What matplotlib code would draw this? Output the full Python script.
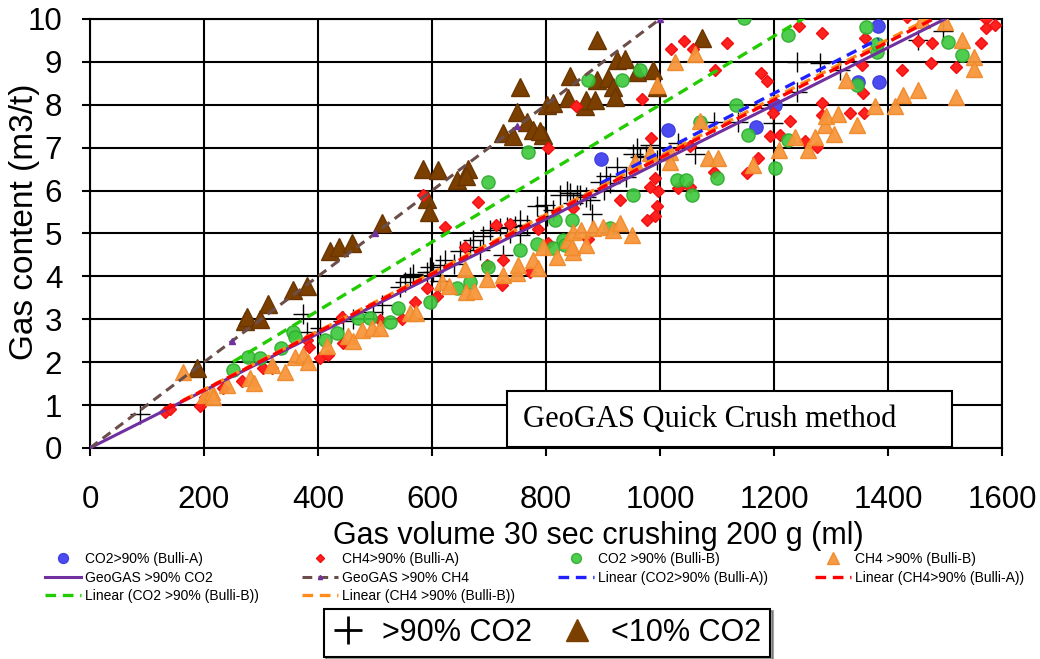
import numpy as np
import matplotlib
matplotlib.use('Agg')
import matplotlib.pyplot as plt
from matplotlib.lines import Line2D
from matplotlib.patches import Rectangle

plt.rcParams['font.family'] = ['Liberation Sans', 'DejaVu Sans']

# --- data (gas volume ml, gas content m3/t) ---
co2_a_x = [896, 1014, 1168, 1202, 1348, 1384, 1382]
co2_a_y = [6.74, 7.41, 7.48, 8.0, 8.53, 8.53, 9.84]

ch4_a_x = [132, 140, 193, 202, 234, 266, 304, 320, 380, 385, 404, 418, 442,
           444, 509, 547, 570, 591, 608, 585, 623, 658, 681, 696, 713, 737,
           725, 722, 772, 786, 804, 804, 848, 853, 874, 929, 968, 985, 991,
           982, 997, 994, 991, 977, 1019, 1042, 1058, 1032, 1053, 1053, 1094,
           1096, 1117, 1152, 1172, 1178, 1188, 1193, 1211, 1199, 1228, 1244,
           1254, 1275, 1284, 1284, 1284, 1333, 1357, 1354, 1356, 1360, 1424,
           1433, 1453, 1477, 1475, 1519, 1563, 1572, 1572, 1588]
ch4_a_y = [0.85, 0.9, 0.97, 1.2, 1.4, 1.55, 1.86, 1.86, 2.52, 2.35, 2.1, 2.17,
           3.06, 2.44, 2.98, 3.0, 3.41, 3.72, 3.55, 5.9, 5.16, 4.69, 5.73,
           4.27, 5.2, 5.22, 4.38, 3.8, 4.11, 5.1, 4.77, 7.0, 5.59, 7.96, 4.86,
           5.77, 8.13, 7.22, 6.29, 6.09, 6.0, 5.63, 5.4, 5.31, 9.3, 9.49,
           9.31, 6.05, 6.09, 7.03, 6.44, 8.81, 9.45, 6.4, 6.76, 8.73, 8.55,
           7.27, 7.3, 7.8, 7.63, 9.84, 7.16, 7.02, 9.67, 8.03, 7.76, 7.82,
           7.82, 8.93, 8.27, 9.55, 8.82, 10.04, 9.49, 9.43, 8.98, 8.87, 9.43,
           9.99, 9.78, 9.87]

co2_b_x = [251, 278, 298, 336, 357, 360, 412, 433, 471, 491, 526, 541, 597,
           643, 667, 699, 754, 784, 813, 829, 833, 816, 845, 912, 953, 1029,
           1045, 1056, 1100, 699, 769, 874, 933, 965, 1070, 1134, 1155, 1225,
           1202, 1147, 1225, 1362, 1380, 1380, 1345, 1506, 1529]
co2_b_y = [1.82, 2.13, 2.09, 2.32, 2.71, 2.58, 2.52, 2.67, 3.02, 3.02, 2.93,
           3.26, 3.41, 3.72, 3.88, 4.23, 4.62, 4.75, 4.65, 4.85, 4.72, 5.31,
           5.31, 5.12, 5.9, 6.25, 6.24, 5.9, 6.29, 6.21, 6.9, 8.58, 8.58,
           8.81, 7.6, 8.0, 7.3, 7.18, 6.52, 10.02, 9.62, 9.82, 9.22, 9.42,
           8.46, 9.47, 9.17]

ch4_b_x = [164, 202, 214, 216, 240, 281, 287, 320, 343, 360, 374, 383, 415,
           452, 461, 477, 494, 509, 561, 572, 617, 630, 660, 673, 658, 696,
           725, 749, 751, 777, 786, 794, 820, 839, 847, 845, 848, 862, 871,
           883, 900, 918, 930, 950, 956, 982, 1018, 1018, 1070, 1085, 1102,
           1164, 1208, 1237, 1260, 1272, 1289, 1292, 1305, 1313, 1345, 1377,
           1412, 1427, 1453, 1520, 1327, 994, 1026, 1061, 1459, 1500, 1529,
           1550, 1550]
ch4_b_y = [1.78, 1.24, 1.3, 1.2, 1.47, 1.64, 1.52, 1.93, 1.78, 2.11, 2.17,
           2.01, 2.38, 2.62, 2.5, 2.75, 2.8, 2.8, 3.14, 3.14, 3.88, 3.78, 3.63,
           3.65, 4.17, 3.95, 4.03, 4.08, 4.27, 4.38, 4.2, 4.69, 4.46, 4.85,
           4.58, 4.69, 5.04, 5.08, 4.73, 5.12, 5.15, 5.08, 5.24, 4.96, 6.67,
           6.87, 6.91, 6.67, 7.63, 6.75, 6.75, 6.6, 6.95, 7.24, 6.95, 7.25,
           7.53, 7.74, 7.32, 7.79, 7.53, 7.96, 7.96, 8.23, 8.35, 8.18, 8.58,
           8.46, 9.0, 9.18, 9.98, 9.94, 9.5, 9.12, 8.83]

# GeoGAS reference curves
geo_co2_x = [0, 250, 500, 750, 1000, 1250, 1500]
geo_co2_y = [0, 1.67, 3.33, 5.0, 6.67, 8.33, 10.0]
geo_ch4_x = [0, 250, 500, 750, 1000]
geo_ch4_y = [0, 2.5, 5.0, 7.5, 10.0]

# slopes of the linear trendlines (intercept 0), as drawn on the chart
slope_co2_a = 0.00689
slope_ch4_a = 0.00676
slope_co2_b = 0.00800
slope_ch4_b = 0.00680

# overlay symbols: >90% CO2 (+) and <10% CO2 (brown triangles)
hi_co2_x = [88, 374, 380, 404, 444, 461, 497, 512, 544, 553, 561, 567, 591,
            596, 602, 614, 614, 623, 638, 649, 667, 672, 684, 690, 702, 719,
            725, 731, 737, 746, 754, 754, 766, 784, 798, 802, 813, 825, 836,
            842, 847, 854, 860, 871, 877, 880, 895, 901, 906, 912, 924, 941,
            953, 959, 965, 975, 982, 994, 1032, 1061, 1094, 1137, 1193, 1199,
            1240, 1240, 1281, 1316, 1453, 1497]
hi_co2_y = [0.8, 3.12, 2.7, 2.8, 2.95, 3.0, 3.18, 3.33, 3.76, 3.88, 3.99,
            4.05, 4.11, 4.23, 4.1, 4.27, 3.9, 4.38, 4.3, 4.6, 4.69, 4.85, 4.62,
            4.95, 5.08, 5.12, 4.5, 5.16, 5.0, 5.18, 4.97, 5.31, 5.2, 5.63,
            5.66, 5.4, 5.55, 5.9, 6.0, 5.94, 5.71, 5.9, 5.9, 5.86, 5.78, 5.45,
            6.2, 6.01, 6.33, 6.17, 6.56, 6.32, 6.85, 6.99, 6.79, 6.8, 7.06,
            6.71, 7.1, 6.85, 7.6, 7.6, 7.92, 7.57, 9.0, 8.3, 8.97, 8.81, 9.51,
            9.72]

lo_co2_x = [187, 272, 275, 298, 313, 357, 380, 421, 436, 459, 512, 585, 611,
            643, 664, 660, 591, 594, 725, 742, 754, 749, 766, 777, 795, 789,
            801, 813, 839, 842, 868, 871, 886, 889, 889, 909, 918, 921, 924,
            939, 959, 988, 994, 1073]
lo_co2_y = [1.86, 2.95, 3.05, 3.0, 3.36, 3.68, 3.78, 4.6, 4.69, 4.77, 5.24,
            6.5, 6.48, 6.25, 6.5, 6.35, 5.8, 5.5, 7.34, 7.28, 8.42, 7.84, 7.6,
            7.41, 7.3, 7.38, 8.0, 8.03, 8.15, 8.66, 7.96, 8.11, 8.11, 9.51,
            8.58, 8.62, 8.42, 8.19, 9.04, 9.06, 8.77, 8.81, 8.42, 9.55]


def trendline(xs, slope):
    # linear trend through the origin, spanning the series' x range
    xl = np.array([min(xs), max(xs)], float)
    return xl, slope * xl


fig = plt.figure(figsize=(10.4, 6.59), dpi=100)
ax = fig.add_axes([0.0865, 0.3202, 0.877, 0.651])

ax.plot(hi_co2_x, hi_co2_y, '+', color='black', ms=14, mew=1.0, zorder=2.5)
ax.plot(lo_co2_x, lo_co2_y, '^', color='#7B3F00', mec='#6A3500', ms=13,
        zorder=2.5)

h_a_co2, = ax.plot(co2_a_x, co2_a_y, 'o', color='#4B4BF0', mec='#4040E0',
                   ms=9.5, zorder=3, label='CO2>90% (Bulli-A)')
h_a_ch4, = ax.plot(ch4_a_x, ch4_a_y, 'D', color='#FF2020', mec='#F01010',
                   ms=6, zorder=3, label='CH4>90% (Bulli-A)')
h_b_co2, = ax.plot(co2_b_x, co2_b_y, 'o', color='#3CC83C', mec='#2EAA2E',
                   ms=9.5, alpha=0.9, zorder=3, label='CO2 >90% (Bulli-B)')
h_b_ch4, = ax.plot(ch4_b_x, ch4_b_y, '^', color='#F7963C', mec='#F08A2A',
                   ms=11, alpha=0.95, zorder=3, label='CH4 >90% (Bulli-B)')

dash = (0, (3.2, 2.0))
h_geo_co2, = ax.plot(geo_co2_x, geo_co2_y, '-', color='#7030A0', lw=2.2,
                     zorder=4, label='GeoGAS >90% CO2')
h_geo_ch4, = ax.plot(geo_ch4_x, geo_ch4_y, color='#6B4E4A', lw=2.2,
                     ls=dash, marker='^', ms=4, mfc='#7030A0', mec='#7030A0',
                     zorder=4, label='GeoGAS >90% CH4')

trend_h = []
for xs, k, col, lab in [
        (co2_b_x, slope_co2_b, '#22CC00', 'Linear (CO2 >90% (Bulli-B))'),
        (co2_a_x, slope_co2_a, '#2020FF', 'Linear (CO2>90% (Bulli-A))'),
        (ch4_b_x, slope_ch4_b, '#FF8C1A', 'Linear (CH4 >90% (Bulli-B))'),
        (ch4_a_x, slope_ch4_a, '#FF0000', 'Linear (CH4>90% (Bulli-A))')]:
    xl, yl = trendline(xs, k)
    h, = ax.plot(xl, yl, color=col, lw=2.4, ls=dash, zorder=4, label=lab)
    trend_h.append(h)
h_lin_b_co2, h_lin_a_co2, h_lin_b_ch4, h_lin_a_ch4 = trend_h

ax.set_xlim(0, 1600)
ax.set_ylim(0, 10)
ax.set_xticks(np.arange(0, 1601, 200))
ax.set_yticks(np.arange(0, 11, 1))
ax.grid(True, color='black', lw=1.5)
ax.set_axisbelow(True)
for s in ax.spines.values():
    s.set_linewidth(1.5)
ax.tick_params(direction='out', length=6, width=1.5, labelsize=22.5)
ax.tick_params(axis='x', pad=21)
ax.tick_params(axis='y', pad=14)

# axis titles (placed where they sit on the original)
fig.text(598 / 1040, 1 - 536 / 659, 'Gas volume 30 sec crushing 200 g (ml)',
         fontsize=22, ha='center', va='center')
fig.text(25 / 1040, 1 - 222 / 659, 'Gas content (m3/t)', fontsize=24,
         rotation=90, ha='center', va='center')

# method box in the lower right
ax.add_patch(Rectangle((417 / 912, 1 / 429), 445 / 912, 56 / 429,
                       transform=ax.transAxes, facecolor='white',
                       edgecolor='black', lw=1.5, zorder=5))
ax.text(433 / 912, 28 / 429, 'GeoGAS Quick Crush method',
        transform=ax.transAxes, family='Liberation Serif', fontsize=22,
        va='center', ha='left', zorder=6)

# series legend under the chart, four columns
columns = [(45, [h_a_co2, h_geo_co2, h_lin_b_co2]),
           (302, [h_a_ch4, h_geo_ch4, h_lin_b_ch4]),
           (558, [h_b_co2, h_lin_a_co2]),
           (815, [h_b_ch4, h_lin_a_ch4])]
for xpix, hs in columns:
    fig.legend(handles=hs, loc='upper left',
               bbox_to_anchor=(xpix / 1040, 1 - 552 / 659),
               frameon=False, fontsize=10, borderpad=0,
               borderaxespad=0, handlelength=2.6, handletextpad=0.3,
               labelspacing=0.33, markerscale=0.75)

sym = [Line2D([], [], ls='none', marker='+', color='black', ms=20, mew=2),
       Line2D([], [], ls='none', marker='^', color='#7B3F00', ms=16)]
leg2 = fig.legend(handles=sym, labels=['>90% CO2', '<10% CO2'], ncol=2,
                  loc='lower center', bbox_to_anchor=(547 / 1040, 2 / 659),
                  fontsize=22, frameon=True, fancybox=False, shadow=True,
                  edgecolor='black', handlelength=1.0, handletextpad=0.6,
                  columnspacing=1.0, borderpad=0.3, borderaxespad=0)
leg2.get_frame().set_linewidth(1.5)

fig.savefig('out.png', dpi=100)
